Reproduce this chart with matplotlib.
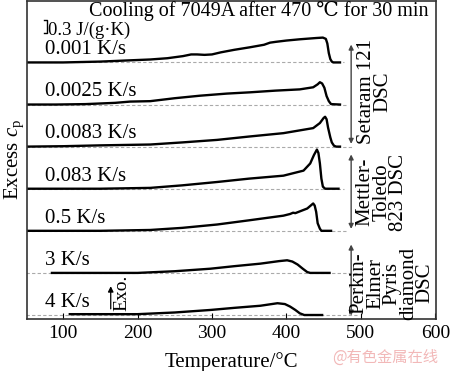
import numpy as np
import matplotlib
matplotlib.use("Agg")
import matplotlib.pyplot as plt

# =====================================================
# 1) DADOS (excesso de cp em J/(g·K))
# =====================================================

rates = ["0.001 K/s", "0.0025 K/s", "0.0083 K/s", "0.083 K/s", "0.5 K/s", "3 K/s", "4 K/s"]
offsets = [6, 5, 4, 3, 2, 1, 0]

t_0001 = [50, 100, 150, 190, 217, 240, 261, 272, 280, 290, 300, 312, 330, 351, 370, 378, 386, 400, 418, 440, 449, 453, 455, 457, 459, 461, 463, 472]
c_0001 = [0, 0, 0.02, 0.05, 0.07, 0.10, 0.15, 0.19, 0.19, 0.18, 0.19, 0.24, 0.30, 0.36, 0.42, 0.47, 0.49, 0.52, 0.55, 0.58, 0.59, 0.56, 0.45, 0.22, 0.08, 0.02, 0, 0]

t_00025 = [50, 90, 130, 170, 190, 217, 250, 284, 320, 351, 385, 418, 436, 442, 445, 448, 451, 454, 457, 460, 472]
c_00025 = [0, 0, 0.01, 0.04, 0.07, 0.08, 0.15, 0.21, 0.26, 0.29, 0.33, 0.36, 0.41, 0.48, 0.53, 0.50, 0.40, 0.20, 0.08, 0.01, 0]

t_00083 = [50, 100, 150, 217, 260, 307, 350, 396, 436, 445, 450, 452, 454, 456, 459, 461, 464, 467, 472]
c_00083 = [0, 0.01, 0.03, 0.05, 0.10, 0.16, 0.24, 0.32, 0.44, 0.56, 0.68, 0.71, 0.65, 0.45, 0.22, 0.10, 0.02, 0, 0]

t_0083 = [50, 150, 217, 260, 307, 350, 396, 423, 432, 437, 441, 443, 445, 447, 449, 452, 470]
c_0083 = [0, 0, 0.02, 0.08, 0.16, 0.24, 0.31, 0.43, 0.60, 0.80, 0.93, 0.85, 0.60, 0.24, 0.05, 0, 0]

t_05 = [50, 150, 217, 260, 307, 350, 396, 405, 409, 412, 428, 436, 438, 440, 442, 445, 447, 460]
c_05 = [0, 0, 0.02, 0.07, 0.15, 0.25, 0.36, 0.40, 0.43, 0.42, 0.53, 0.65, 0.60, 0.45, 0.18, 0.05, 0, 0]

t_3 = [85, 200, 250, 298, 330, 365, 390, 401, 408, 415, 422, 428, 432, 458]
c_3 = [0, 0, 0.04, 0.10, 0.16, 0.22, 0.28, 0.30, 0.27, 0.20, 0.10, 0.02, 0, 0]

t_4 = [109, 200, 250, 298, 330, 365, 388, 398, 405, 412, 418, 424, 448]
c_4 = [0.02, 0.02, 0.06, 0.12, 0.17, 0.22, 0.28, 0.26, 0.20, 0.12, 0.04, 0, 0]

temps = [t_0001, t_00025, t_00083, t_0083, t_05, t_3, t_4]
cps = [c_0001, c_00025, c_00083, c_0083, c_05, c_3, c_4]

# fim das linhas tracejadas de referência
base_end = [478, 480, 490, 478, 480, 495, 495]

# =====================================================
# 2) ESTILO
# =====================================================

plt.rcParams["font.family"] = ["Liberation Serif", "DejaVu Serif"]
plt.rcParams["mathtext.fontset"] = "custom"
plt.rcParams["mathtext.rm"] = "Liberation Serif"
plt.rcParams["mathtext.it"] = "Liberation Serif:italic"
FS = 15

fig = plt.figure(figsize=(4.5, 3.71), dpi=100)
ax = fig.add_axes([0.06, 0.1415, 0.9089, 0.857])

# =====================================================
# 3) CURVAS
# =====================================================

for nome, off, t, c, xe in zip(rates, offsets, temps, cps, base_end):
    ax.plot([50, xe], [off, off], ls=(0, (3, 2)), color="#aaaaaa", lw=0.8, zorder=1)
    ax.plot(t, np.array(c) + off, color="black", lw=1.7, zorder=2)
    ax.text(76, off + 0.3, nome, fontsize=FS, va="center", ha="left")

# barra de escala 0.3 J/(g·K)
ax.plot([75, 78, 78, 75], [7.0, 7.0, 6.7, 6.7], color="black", lw=1.0)
ax.text(80, 6.77, "0.3 J/(g\u00b7K)", fontsize=13.5, va="center", ha="left")

ax.text(0.567, 0.968, "Cooling of 7049A after 470 \u2103 for 30 min", transform=ax.transAxes,
        fontsize=14.5, ha="center", va="center")

# seta Exo.
ax.annotate("", xy=(164, 0.75), xytext=(164, 0.08),
            arrowprops=dict(arrowstyle="-|>", color="black", lw=0.9, mutation_scale=8))
ax.text(179, 0.52, "Exo.", rotation=90, fontsize=14, ha="center", va="center")

# setas dos equipamentos
for y0, y1 in [(6.49, 4.0), (3.88, 1.98), (1.74, -0.08)]:
    ax.annotate("", xy=(487, y0), xytext=(487, y1),
                arrowprops=dict(arrowstyle="<|-|>", color="#444444", lw=1.0, mutation_scale=7))

ax.text(519, 5.3, "Setaram 121\nDSC", rotation=90, fontsize=FS, ha="center", va="center",
        linespacing=0.8)
ax.text(528, 2.92, "Mettler-\nToledo\n823 DSC", rotation=90, fontsize=FS, ha="center", va="center",
        linespacing=0.82)
ax.text(542, 0.76, "Perkin-\nElmer\nPyris\ndiamond\nDSC", rotation=90, fontsize=FS, ha="center",
        va="center", linespacing=0.82)

# =====================================================
# 4) EIXOS
# =====================================================

ax.set_xlim(51.5, 601)
ax.set_ylim(-0.083, 7.47)
ax.set_xticks([100, 200, 300, 400, 500, 600])
ax.set_yticks([])
ax.tick_params(axis="x", direction="in", length=4, labelsize=14, pad=5)
for s in ax.spines.values():
    s.set_linewidth(1.2)
    s.set_color("#333333")

ax.set_xlabel("Temperature/\u00b0C", fontsize=FS, labelpad=7)
ax.set_ylabel("Excess $c_\\mathrm{p}$", fontsize=FS, labelpad=1)

fig.text(0.855, 0.037, "@有色金属在线", fontsize=11, color="#f2b8b8", ha="center", va="center",
         family=["Noto Sans CJK SC", "DejaVu Sans"])

fig.savefig("out.png", dpi=100)
